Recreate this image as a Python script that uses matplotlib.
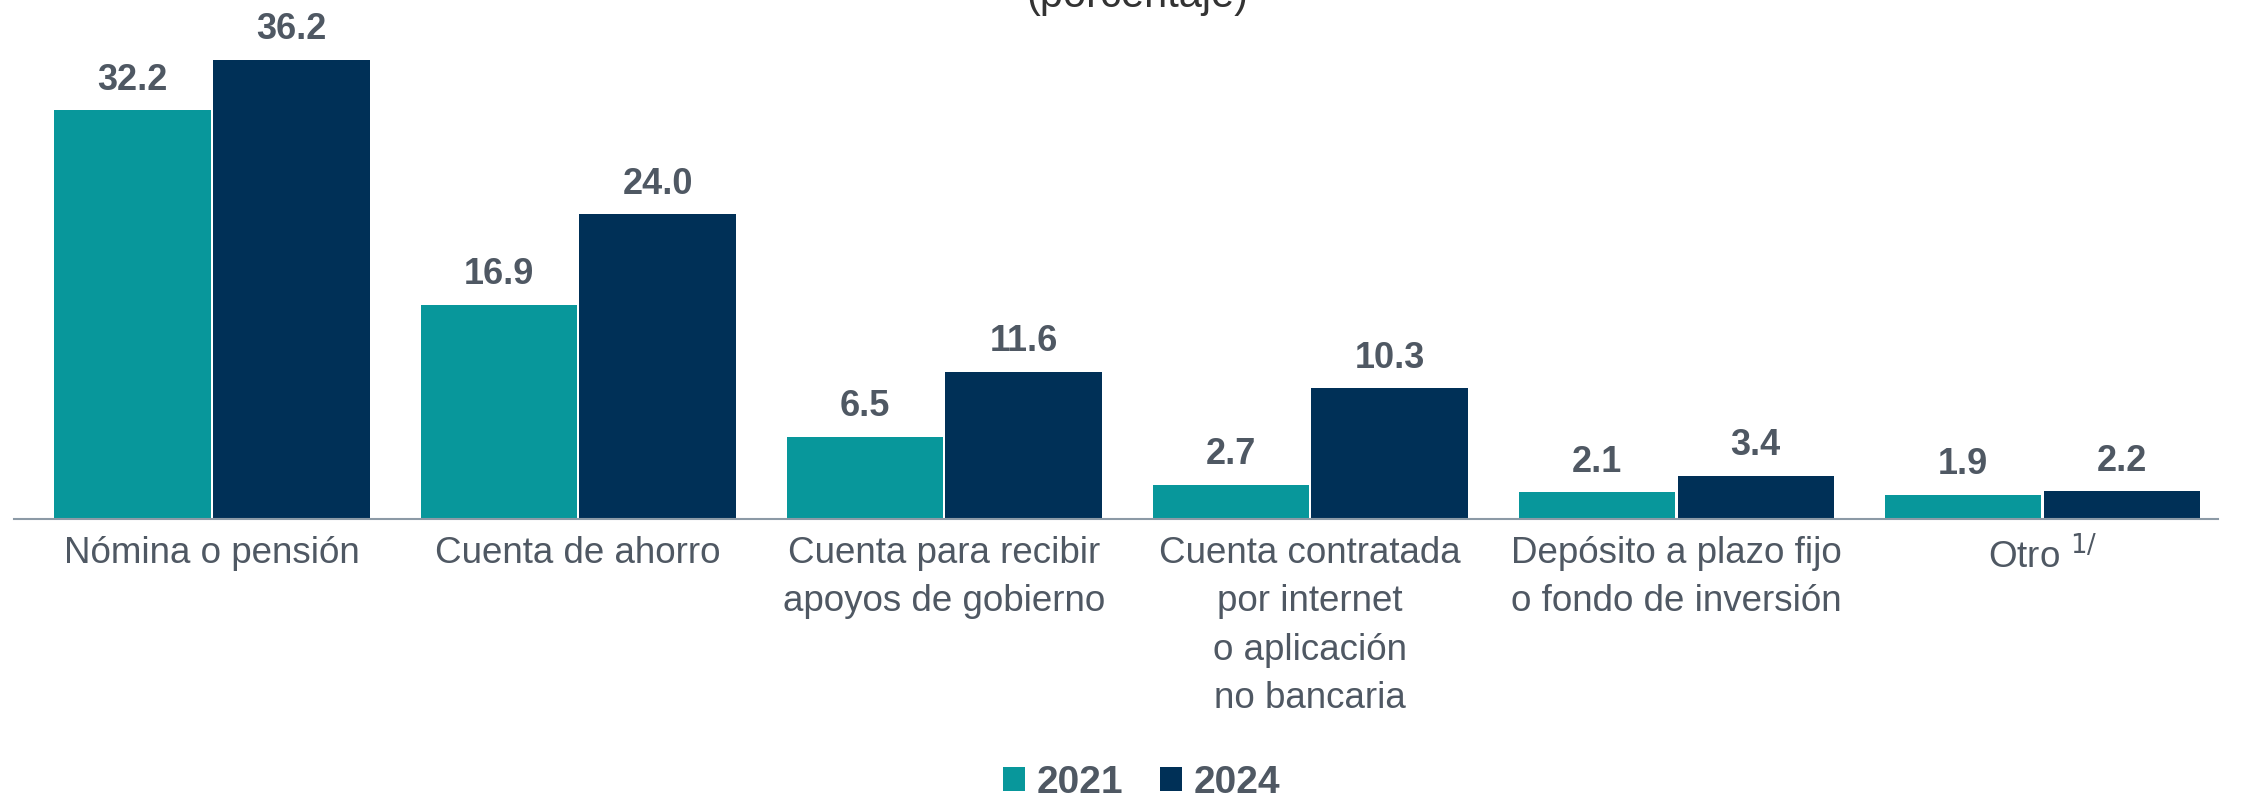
import matplotlib.pyplot as plt
import numpy as np

plt.rcParams['font.family'] = ['Liberation Sans', 'DejaVu Sans']

categorias = ["Nómina o pensión", "Cuenta de ahorro", "Cuenta para recibir\napoyos de gobierno",
              "Cuenta contratada\npor internet\no aplicación\nno bancaria",
              "Depósito a plazo fijo\no fondo de inversión", "Otro $^{1/}$"]
v2021 = [32.2, 16.9, 6.5, 2.7, 2.1, 1.9]
v2024 = [36.2, 24.0, 11.6, 10.3, 3.4, 2.2]
series = ["2021", "2024"]

teal = "#08979B"
navy = "#003057"
gris = "#4F5863"

fig = plt.figure(figsize=(22.47, 8.01), dpi=100)
ax = fig.add_axes([14/2247, 1 - 519/801, 2204/2247, 519/801])

x = np.arange(len(categorias))
w = 0.427
off = 0.217
b1 = ax.bar(x - off, v2021, w, color=teal, label=series[0])
b2 = ax.bar(x + off, v2024, w, color=navy, label=series[1])

for bars, vals in [(b1, v2021), (b2, v2024)]:
    for r, v in zip(bars, vals):
        ax.annotate(f"{v:.1f}", (r.get_x() + r.get_width()/2, v), xytext=(0, 9),
                    textcoords="offset points", ha="center", va="bottom",
                    fontsize=26, fontweight="bold", color=gris)

ax.set_xlim(-0.541, 5.48)
ax.set_ylim(0, 40.9)
ax.set_xticks(x)
ax.set_xticklabels(categorias, fontsize=26.5, color=gris, linespacing=1.5)
ax.tick_params(axis="x", length=0, pad=12)
ax.set_yticks([])
for s in ["top", "right", "left"]:
    ax.spines[s].set_visible(False)
ax.spines["bottom"].set_color("#8C9AA6")
ax.spines["bottom"].set_linewidth(1.5)

# titulo cortado por el borde superior, como en el original
fig.text(0.506, 1 - 7/801, "(porcentaje)", ha="center", va="baseline",
         fontsize=30, color="#333333")

leg = fig.legend(loc="center", bbox_to_anchor=(0.508, 1 - 783/801), ncol=2, frameon=False,
                 prop={"size": 28, "weight": "bold"}, handlelength=0.57, handleheight=0.57,
                 handletextpad=0.3, columnspacing=0.95)
for t in leg.get_texts():
    t.set_color(gris)

fig.savefig("out.png", dpi=100)
